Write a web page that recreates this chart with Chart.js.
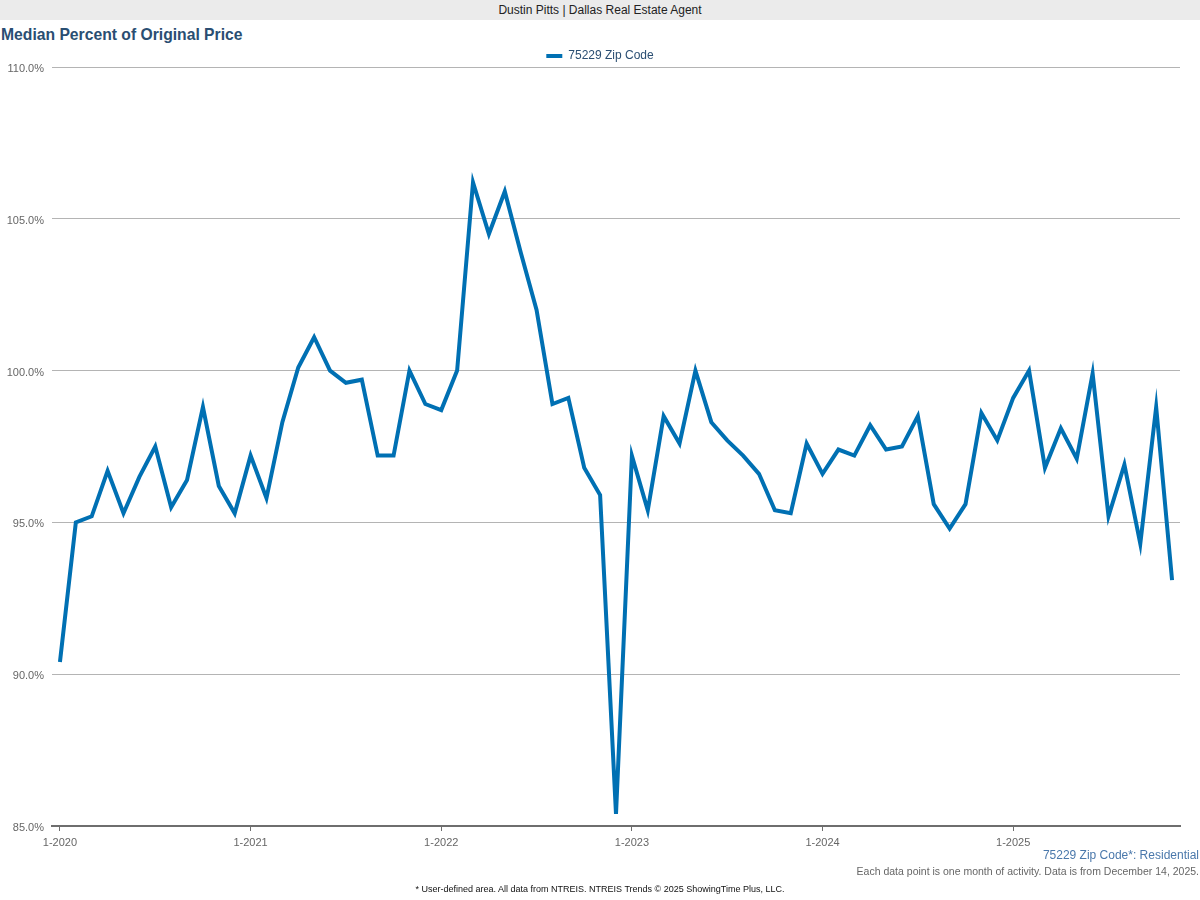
<!DOCTYPE html>
<html>
<head>
<meta charset="utf-8">
<script src="https://cdn.jsdelivr.net/npm/chart.js@4.4.1/dist/chart.umd.min.js"></script>
<style>
  body { margin: 0; width: 1200px; height: 900px; position: relative; background: #fff; font-family: "Liberation Sans", Arial, sans-serif; overflow: hidden; }
  #banner { position: absolute; left: 0; top: 0; width: 1200px; height: 20px; background: #ebebeb; text-align: center; font-size: 12px; line-height: 21px; color: #222; }
  #title { position: absolute; left: 1px; top: 26px; font-size: 15.7px; font-weight: bold; color: #2a4e72; }
  #wrap { position: absolute; left: 0; top: 0; width: 1200px; height: 900px; }
  .note { position: absolute; right: 1px; }
  #area { top: 848px; font-size: 12px; color: #4a78ab; }
  #each { top: 865px; font-size: 10.5px; color: #666; }
  #foot { position: absolute; left: 0; width: 1200px; top: 884px; text-align: center; font-size: 9px; color: #111; }
</style>
</head>
<body>
<div id="banner">Dustin Pitts | Dallas Real Estate Agent</div>
<div id="title">Median Percent of Original Price</div>
<div id="wrap"><canvas id="chart"></canvas></div>
<div class="note" id="area">75229 Zip Code*: Residential</div>
<div class="note" id="each">Each data point is one month of activity. Data is from December 14, 2025.</div>
<div id="foot">* User-defined area. All data from NTREIS. NTREIS Trends © 2025 ShowingTime Plus, LLC.</div>

<script>
// data, Jan 2020 .. Nov 2025
const years = [2020, 2021, 2022, 2023, 2024, 2025];
const seriesName = "75229 Zip Code";
const values = [
  90.4, 95.0, 95.2, 96.7, 95.3, 96.5, 97.5, 95.5, 96.4, 98.8, 96.2, 95.3,   // 2020
  97.2, 95.8, 98.3, 100.1, 101.1, 100.0, 99.6, 99.7, 97.2, 97.2, 100.0, 98.9, // 2021
  98.7, 100.0, 106.2, 104.5, 105.9, 103.9, 102.0, 98.9, 99.1, 96.8, 95.9, 85.4, // 2022
  97.2, 95.4, 98.5, 97.6, 100.0, 98.3, 97.7, 97.2, 96.6, 95.4, 95.3, 97.6,   // 2023
  96.6, 97.4, 97.2, 98.2, 97.4, 97.5, 98.5, 95.6, 94.8, 95.6, 98.6, 97.7,   // 2024
  99.1, 100.0, 96.8, 98.1, 97.1, 99.9, 95.2, 96.9, 94.3, 98.8, 93.1         // 2025
];
const yTicks = [85, 90, 95, 100, 105, 110];

// month labels like "1-2020"
const labels = [];
years.forEach(y => {
  for (let m = 1; m <= 12; m++) labels.push(m + "-" + y);
});
labels.length = values.length;

const blue = "#0070b3";
const fontFam = "'Liberation Sans', Arial, sans-serif";

// nudge the legend down a bit, closer to the plot
const legendNudge = {
  id: "legendNudge",
  afterLayout(chart) {
    if (chart.legend) { chart.legend.top += 5; chart.legend.bottom += 5; }
  }
};

new Chart(document.getElementById("chart"), {
  type: "line",
  plugins: [legendNudge],
  data: {
    labels: labels,
    datasets: [{
      label: seriesName,
      data: values,
      borderColor: blue,
      backgroundColor: blue,
      borderWidth: 4,
      pointRadius: 0,
      tension: 0,
      borderJoinStyle: "miter"
    }]
  },
  options: {
    responsive: true,
    maintainAspectRatio: false,
    animation: false,
    layout: { padding: { top: 45, right: 0, bottom: 44, left: 0 } },
    plugins: {
      tooltip: { enabled: false },
      legend: {
        position: "top",
        labels: {
          boxWidth: 16,
          boxHeight: 4,
          padding: 0,
          color: "#2a4e72",
          font: { family: fontFam, size: 12 },
          generateLabels: chart => Chart.defaults.plugins.legend.labels.generateLabels(chart)
            .map(l => Object.assign(l, { lineWidth: 0 }))
        }
      }
    },
    scales: {
      x: {
        type: "category",
        offset: true,
        border: { display: true, color: "#6e6e6e", width: 2 },
        grid: {
          drawOnChartArea: false,
          drawTicks: true,
          tickLength: 5,
          color: ctx => (ctx.tick && String(labels[ctx.tick.value]).startsWith("1-")) ? "#6e6e6e" : "rgba(0,0,0,0)"
        },
        ticks: {
          autoSkip: false,
          maxRotation: 0,
          padding: 5,
          color: "#666",
          font: { family: fontFam, size: 11 },
          callback: (val) => labels[val].startsWith("1-") ? labels[val] : ""
        },
        afterFit: s => { s.height = 30; }
      },
      y: {
        min: 85,
        max: 110,
        afterBuildTicks: s => { s.ticks = yTicks.map(v => ({ value: v })); },
        border: { display: false },
        grid: { color: "#b4b4b4", lineWidth: 1, drawTicks: false },
        ticks: {
          padding: 8,
          labelOffset: 2,
          color: "#666",
          font: { family: fontFam, size: 11 },
          callback: v => v.toFixed(1) + "%"
        },
        afterFit: s => { s.width = 52; }
      },
      // empty right gutter so the legend centres on the page
      yRight: {
        position: "right",
        display: true,
        min: 85,
        max: 110,
        border: { display: false },
        grid: { drawOnChartArea: false, drawTicks: false },
        ticks: { display: false },
        afterFit: s => { s.width = 20; }
      }
    }
  }
});
</script>
</body>
</html>
